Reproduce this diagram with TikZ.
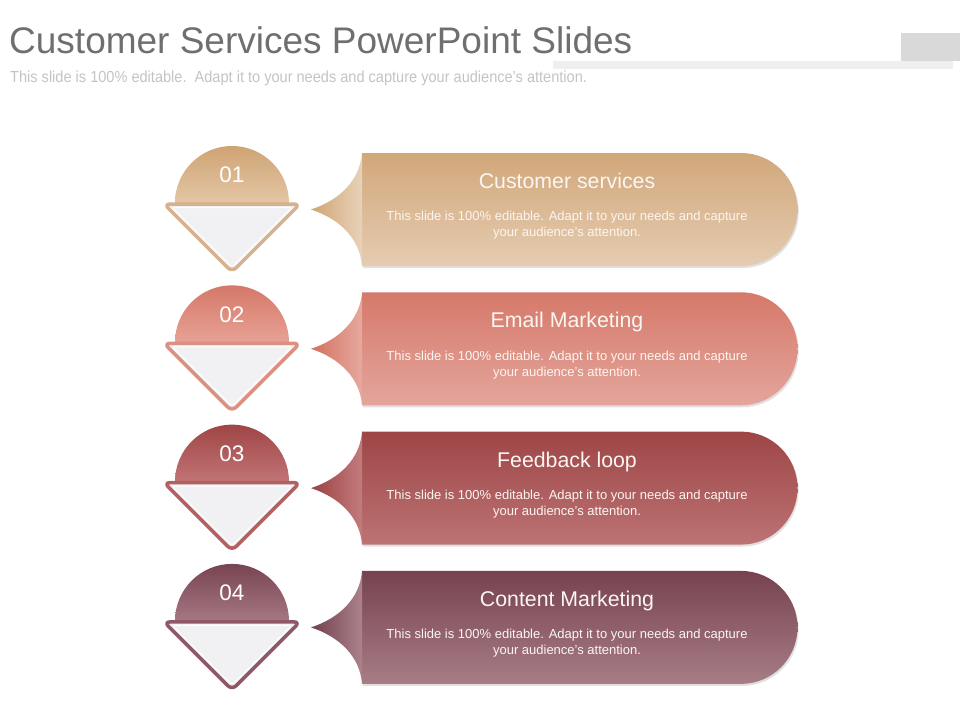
\documentclass[tikz,border=0pt]{standalone}
\usepackage{fontspec}
\setmainfont{Liberation Sans}
\usetikzlibrary{shadows}
\definecolor{titlegray}{HTML}{6F6F6F}
\definecolor{subgray}{HTML}{C4C4C4}
\definecolor{boxgray}{HTML}{D9D9D9}
\definecolor{bargray}{HTML}{EFEFEF}
\definecolor{trifill}{HTML}{F1F1F3}
% row 1
\definecolor{c1top}{HTML}{D1A77A}\definecolor{c1bot}{HTML}{E5CCB1}
\definecolor{c1pl}{HTML}{D0A474}\definecolor{c1pr}{HTML}{E7D2B9}
\definecolor{c1ct}{HTML}{CFA474}\definecolor{c1cb}{HTML}{E3C6A4}
\definecolor{c1ol}{HTML}{D6B18B}
% row 2
\definecolor{c2top}{HTML}{D6796A}\definecolor{c2bot}{HTML}{E4A59C}
\definecolor{c2pl}{HTML}{D3705F}\definecolor{c2pr}{HTML}{E6A99F}
\definecolor{c2ct}{HTML}{D57868}\definecolor{c2cb}{HTML}{E6A295}
\definecolor{c2ol}{HTML}{DC9082}
% row 3
\definecolor{c3top}{HTML}{9E4546}\definecolor{c3bot}{HTML}{BC7374}
\definecolor{c3pl}{HTML}{9C4243}\definecolor{c3pr}{HTML}{C27B7C}
\definecolor{c3ct}{HTML}{A04546}\definecolor{c3cb}{HTML}{C17475}
\definecolor{c3ol}{HTML}{B36062}
% row 4
\definecolor{c4top}{HTML}{774250}\definecolor{c4bot}{HTML}{A77D86}
\definecolor{c4pl}{HTML}{73404D}\definecolor{c4pr}{HTML}{AB828B}
\definecolor{c4ct}{HTML}{794452}\definecolor{c4cb}{HTML}{A57882}
\definecolor{c4ol}{HTML}{8E5866}
\definecolor{bodywhite}{HTML}{FBF6F2}
\tikzset{
  titletext/.style={text=titlegray, font=\fontsize{37}{40}\selectfont, inner sep=0pt},
  subtext/.style={text=subgray, font=\fontsize{16}{18}\selectfont, inner sep=0pt},
  bannertitle/.style={text=bodywhite, font=\fontsize{21.3}{24}\selectfont, inner sep=0pt},
  bannerbody/.style={text=bodywhite, font=\fontsize{13}{16}\selectfont, align=center, inner sep=0pt},
  numtext/.style={text=white, font=\fontsize{22.5}{26}\selectfont, inner sep=0pt},
  bshadow/.style={drop shadow={shadow xshift=1.2pt, shadow yshift=-2pt, opacity=0.2, fill=black!60}}
}
\begin{document}
\begin{tikzpicture}[x=1pt, y=-1pt]
\useasboundingbox (0,0) rectangle (960,720);
\fill[white] (0,0) rectangle (960,720);
% header
\fill[bargray] (553,61) rectangle (953,69);
\fill[boxgray] (901,33) rectangle (960,61);
\node[titletext, anchor=base west] (title) at (9,53) {Customer Services PowerPoint Slides};
\node[subtext, anchor=base west] (subtitle) at (10,82) {\scalebox{0.91}[1]{This slide is 100\% editable.\ \ Adapt it to your needs and capture your audience's attention.}};
% rows
\foreach \i/\dy/\ttl in {1/0/Customer services, 2/139.3/Email Marketing, 3/278.6/Feedback loop, 4/417.9/Content Marketing}{
  % banner body
  \path[bshadow, top color=c\i top, bottom color=c\i bot]
    (362,153+\dy) -- (741,153+\dy) arc(-90:90:56.5) -- (362,266+\dy) -- cycle;
  % pointer
  \path[left color=c\i pl, right color=c\i pr]
    (362,153+\dy) .. controls (360,180+\dy) and (340,200+\dy) .. (311,209.5+\dy)
    .. controls (340,219+\dy) and (360,239+\dy) .. (362,266+\dy) -- cycle;
  % half circle
  \path[top color=c\i ct, bottom color=c\i cb]
    (175,203+\dy) arc(180:360:57) -- cycle;
  % triangle
  \path[draw=c\i ol, line width=3.5pt, fill=trifill, rounded corners=6pt, line join=round]
    (164,204+\dy) -- (300,204+\dy) -- (232,272+\dy) -- cycle;
  \path[draw=white, line width=1pt, rounded corners=3pt]
    (172,207.5+\dy) -- (292,207.5+\dy) -- (232,267+\dy) -- cycle;
  % texts
  \node[numtext] (num\i) at (232,175+\dy) {0\i};
  \node[bannertitle, anchor=base] (bt\i) at (567,188.5+\dy) {\ttl};
  \node[bannerbody] (bb\i) at (567,225.5+\dy) {This slide is 100\% editable. Adapt it to your needs and capture\\your audience's attention.};
}
\end{tikzpicture}
\end{document}
